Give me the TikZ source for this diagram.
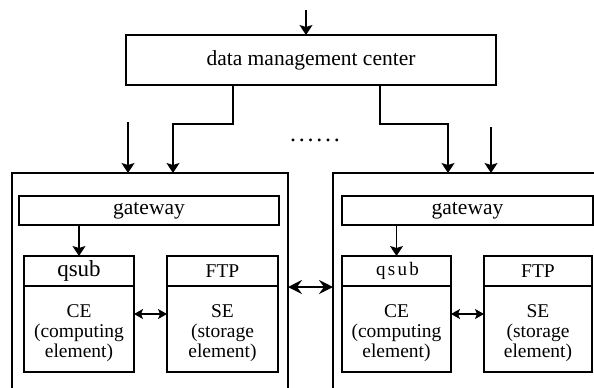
\documentclass[tikz,border=0pt]{standalone}
\usepackage{fontspec}
\setmainfont{Liberation Serif}
\usetikzlibrary{arrows.meta}
\begin{document}
\begin{tikzpicture}[x=1bp,y=-1bp,
  line width=1.25bp,
  arr/.style={-{Stealth[length=10bp,width=13bp,inset=2bp]}},
  darr/.style={{Stealth[length=9bp,width=10bp,inset=2bp]}-{Stealth[length=9bp,width=10bp,inset=2bp]}},
  bigarr/.style={line width=2.6bp,{Stealth[length=14bp,width=14bp,inset=5bp]}-{Stealth[length=14bp,width=14bp,inset=5bp]}},
  box/.style={draw, inner sep=0pt, outer sep=0pt},
  frame/.style={inner sep=0pt, outer sep=0pt},
  lbl/.style={inner sep=0pt, font=\fontsize{19.5bp}{20bp}\selectfont, align=center},
  big/.style={inner sep=0pt, font=\fontsize{21.5bp}{24bp}\selectfont}
]
\path[use as bounding box] (0,0) rectangle (594,387);
\clip (0,0) rectangle (594,387);

% data management center
\node[box, big, minimum width=370bp, minimum height=50bp] (dmc) at (311,60) {data management center};
\coordinate (topin) at (306,10);
\draw[arr] (topin) -- (topin |- dmc.north);

% outer frames (open at the bottom)
\node[frame, minimum width=276bp, minimum height=230bp] (L) at (150,288) {};
\node[frame, minimum width=287bp, minimum height=230bp] (R) at (476.5,288) {};
\draw (L.south west) -- (L.north west) -- (L.north east) -- (L.south east);
\draw (R.south west) -- (R.north west) -- (R.north east);

% connectors from the center
\coordinate (p1) at (233,124);
\coordinate (p2) at (173,124);
\coordinate (q1) at (380,124);
\coordinate (q2) at (448,124);
\draw[arr] (dmc.south -| p1) -- (p1) -- (p2) -- (p2 |- L.north);
\draw[arr] (dmc.south -| q1) -- (q1) -- (q2) -- (q2 |- R.north);
\coordinate (fl) at (128,122);
\coordinate (fr) at (491,127);
\draw[arr] (fl) -- (fl |- L.north);
\draw[arr] (fr) -- (fr |- R.north);

% dots
\node[inner sep=0pt, font=\fontsize{24bp}{24bp}\selectfont] (dots) at (315,140) {.\kern2.8bp.\kern2.8bp.\kern2.8bp.\kern2.8bp.\kern2.8bp.};

% gateways
\node[box, big, minimum width=260bp, minimum height=29bp] (gwL) at (149,210.5) {gateway};
\node[box, big, minimum width=251bp, minimum height=29bp] (gwR) at (467.5,210.5) {gateway};

% CE / SE boxes
\node[box, minimum width=110bp, minimum height=116bp] (ceL) at (79,314) {};
\node[box, minimum width=111bp, minimum height=116bp] (seL) at (222.5,314) {};
\node[box, minimum width=109bp, minimum height=116bp] (ceR) at (396.5,314) {};
\node[box, minimum width=108bp, minimum height=116bp] (seR) at (538,314) {};
\foreach \b in {ceL,seL,ceR,seR}{
  \draw (\b.north west |- 0,286) -- (\b.north east |- 0,286);
}

% headers
\node[inner sep=0pt, font=\fontsize{23bp}{24bp}\selectfont] (hqL) at (ceL.north |- 0,271) {qsub};
\node[lbl] (hfL) at (seL.north |- 0,271) {FTP};
\node[inner sep=0pt, font=\fontsize{19bp}{20bp}\selectfont\addfontfeature{LetterSpace=12}] (hqR) at (397.5,271) {qsub};
\node[lbl] (hfR) at (seR.north |- 0,271) {FTP};

% body texts
\node[lbl] (tceL) at (ceL.north |- 0,333) {CE\\(computing\\element)};
\node[lbl] (tseL) at (seL.north |- 0,333) {SE\\(storage\\element)};
\node[lbl] (tceR) at (ceR.north |- 0,333) {CE\\(computing\\element)};
\node[lbl] (tseR) at (seR.north |- 0,333) {SE\\(storage\\element)};

% arrows inside
\draw[arr] (gwL.south -| ceL.north) -- (ceL.north);
\draw[arr] (gwR.south -| ceR.north) -- (ceR.north);
\draw[darr] (ceL.east) -- (seL.west);
\draw[darr] (ceR.east) -- (seR.west);

% link between sites
\coordinate (mid) at (310,287);
\draw[bigarr] (L.east |- mid) -- (R.west |- mid);
\end{tikzpicture}
\end{document}
